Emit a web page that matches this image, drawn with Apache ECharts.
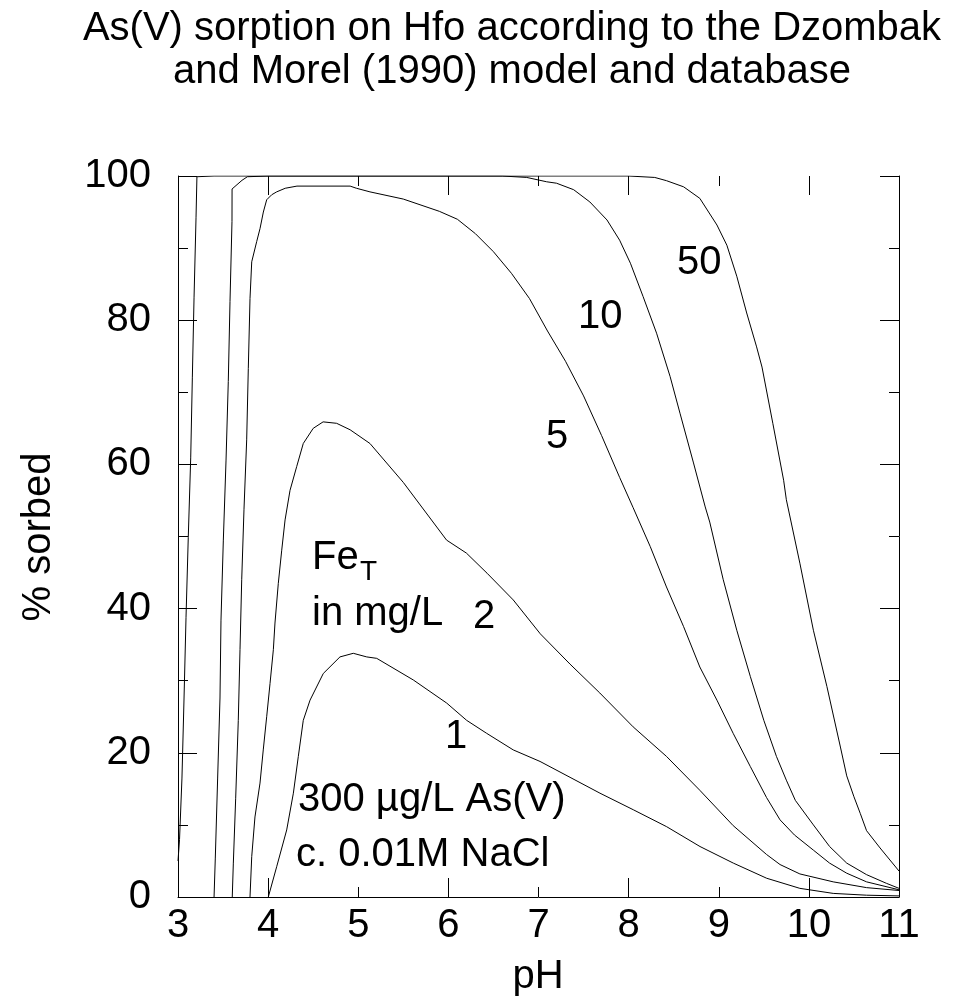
<!DOCTYPE html>
<html>
<head>
<meta charset="utf-8">
<script src="https://cdn.jsdelivr.net/npm/echarts@6/dist/echarts.min.js"></script>
<style>
    body { margin: 0; background: #fff; }
    #chart { width: 975px; height: 1001px; }
</style>
</head>
<body>
<div id="chart"></div>
<script>
    // pH tick labels and % sorbed ticks
    var phTicks = [3, 4, 5, 6, 7, 8, 9, 10, 11];
    var phMajor = [4, 6, 8, 10];

    // [pH, % sorbed], one array per Fe_T (mg/L)
    var fe50 = [[3.0, 5], [3.017, 8], [3.044, 16.5], [3.067, 27.6], [3.089, 38.8], [3.114, 49.9], [3.141, 60.9],
        [3.159, 72.0], [3.178, 83.1], [3.2, 94.2], [3.21, 99.9], [3.4, 100], [8.0, 100], [8.29, 99.8], [8.42, 99.35],
        [8.61, 98.5], [8.79, 96.9], [8.98, 93.2], [9.09, 90.4], [9.2, 86.1], [9.31, 81.0], [9.42, 76.3], [9.48, 73.5],
        [9.6, 65.7], [9.72, 57.8], [9.75, 55.1], [9.9, 46.3], [10.05, 37.0], [10.2, 29.2], [10.35, 20.8], [10.42, 16.8],
        [10.5, 13.9], [10.57, 11.6], [10.64, 9.2], [10.79, 6.8], [11.0, 3.6]];
    var fe10 = [[3.40, 0], [3.414, 5.4], [3.44, 16.5], [3.466, 27.6], [3.477, 38.4], [3.503, 49.5], [3.533, 60.6],
        [3.558, 71.5], [3.577, 82.6], [3.599, 93.7], [3.60, 98.2], [3.71, 99.4], [3.77, 99.9], [4.0, 100], [6.6, 100],
        [6.87, 99.8], [7.09, 99.2], [7.2, 99.0], [7.39, 98.1], [7.57, 96.4], [7.76, 93.9], [7.9, 91.1], [8.02, 87.9],
        [8.16, 83.3], [8.31, 78.2], [8.46, 72.2], [8.57, 67.1], [8.72, 60.2], [8.85, 54.1], [8.9, 52.0], [9.05, 44.0],
        [9.2, 37.0], [9.35, 30.6], [9.5, 24.5], [9.64, 19.5], [9.75, 16.2], [9.85, 13.4], [10.05, 10.0], [10.23, 7.0],
        [10.42, 4.7], [10.64, 3.1], [10.86, 1.9], [11.0, 1.2]];
    var fe5 = [[3.602, 0], [3.614, 4.7], [3.64, 13.7], [3.669, 24.5], [3.688, 34.3], [3.707, 44.0], [3.732, 53.7],
        [3.762, 63.4], [3.78, 73.3], [3.799, 83.0], [3.818, 88.1], [3.873, 90.9], [3.91, 92.7], [3.947, 95.0],
        [3.984, 96.7], [4.04, 97.4], [4.095, 97.8], [4.19, 98.3], [4.32, 98.6], [4.91, 98.6], [4.98, 98.3], [5.13, 97.8],
        [5.5, 96.8], [5.9, 95.1], [6.1, 94.0], [6.3, 92.0], [6.5, 89.5], [6.7, 86.5], [6.9, 83.0], [7.1, 78.5],
        [7.3, 74.3], [7.5, 69.5], [7.7, 64.0], [7.9, 58.2], [8.05, 54.0], [8.24, 48.6], [8.42, 43.0], [8.61, 37.5],
        [8.79, 31.9], [8.98, 27.3], [9.16, 22.7], [9.35, 18.1], [9.53, 13.8], [9.68, 10.7], [9.84, 8.6], [10.05, 6.5],
        [10.23, 4.7], [10.42, 3.3], [10.64, 2.1], [11.0, 1.0]];
    var fe2 = [[3.799, 0], [3.818, 5.6], [3.854, 11.1], [3.91, 15.8], [3.946, 20.4], [3.984, 25.0], [4.021, 29.6],
        [4.058, 34.3], [4.076, 38.0], [4.113, 43.5], [4.151, 48.1], [4.188, 52.3], [4.243, 56.4], [4.317, 59.7],
        [4.39, 62.9], [4.5, 65.0], [4.61, 65.9], [4.76, 65.7], [4.91, 64.8], [5.13, 62.9], [5.5, 57.5], [5.98, 49.5],
        [6.2, 47.7], [6.43, 44.9], [6.72, 41.2], [7.02, 36.5], [7.35, 32.3], [7.68, 28.3], [8.05, 23.6], [8.42, 19.5],
        [8.79, 14.8], [9.16, 9.9], [9.53, 5.9], [9.68, 4.5], [9.9, 3.2], [10.27, 2.1], [10.64, 1.3], [11.0, 0.9]];
    var fe1 = [[4.002, 0], [4.095, 4.2], [4.206, 9.3], [4.28, 14.4], [4.335, 19.5], [4.39, 24.5], [4.465, 27.3],
        [4.612, 31.0], [4.797, 33.3], [4.945, 33.8], [5.094, 33.3], [5.205, 33.1], [5.611, 30.1], [5.981, 26.9],
        [6.203, 24.5], [6.425, 22.7], [6.72, 20.4], [7.017, 18.8], [7.35, 16.6], [7.682, 14.4], [8.052, 12.1],
        [8.422, 9.75], [8.792, 7.0], [9.162, 4.7], [9.532, 2.6], [9.9, 1.2], [10.27, 0.5], [10.64, 0.25], [11.0, 0.15]];

    var FONT = '"Liberation Sans", Arial, sans-serif';
    var black = '#000';

    function xAx(pos, ticks, len, labels) {
        var ax = {
            type: 'value', position: pos, min: 3, max: 11, interval: 1,
            axisLine: { show: labels, onZero: false, lineStyle: { color: black, width: 1 } },
            axisTick: { inside: true, length: len, lineStyle: { color: black, width: 1 } },
            axisLabel: { show: labels, margin: 9, color: black, fontSize: 40, fontFamily: FONT },
            splitLine: { show: false }
        };
        if (ticks) {
            ax.axisTick.customValues = ticks;
        }
        return ax;
    }
    function yAx(pos, labels) {
        return {
            type: 'value', position: pos, min: 0, max: 100, interval: 20,
            axisLine: { show: true, onZero: false, lineStyle: { color: black, width: 1 } },
            axisTick: { inside: true, length: 19, lineStyle: { color: black, width: 1 } },
            minorTick: { show: true, splitNumber: 2, length: 10, lineStyle: { color: black, width: 1 } },
            axisLabel: { show: labels, margin: 27, color: black, fontSize: 40, fontFamily: FONT },
            splitLine: { show: false }
        };
    }
    function curve(data) {
        return {
            type: 'line', data: data, xAxisIndex: 0, yAxisIndex: 0,
            symbol: 'none', showSymbol: false, smooth: false,
            lineStyle: { color: black, width: 1 }, z: 3
        };
    }
    function txt(s, x, y, size, align, rot) {
        return {
            type: 'text', x: x, y: y, rotation: rot || 0, z: 10,
            style: {
                text: s, fill: black, font: size + 'px ' + FONT,
                textAlign: align || 'left', textVerticalAlign: 'middle',
                align: align || 'left', verticalAlign: 'middle'
            }
        };
    }

    var myChart = echarts.init(document.getElementById('chart'));
    var option = {
        animation: false,
        backgroundColor: '#fff',
        grid: { left: 178, right: 76, top: 176, bottom: 104, containLabel: false, outerBoundsMode: 'none' },
        xAxis: [
            xAx('bottom', null, 10, true),
            xAx('bottom', phMajor, 19, false),
            xAx('top', null, 10, false),
            xAx('top', phMajor, 19, false)
        ],
        yAxis: [yAx('left', true), yAx('right', false)],
        series: [curve(fe50), curve(fe10), curve(fe5), curve(fe2), curve(fe1)],
        graphic: [
            txt('As(V) sorption on Hfo according to the Dzombak', 512, 29, 40, 'center'),
            txt('and Morel (1990) model and database', 512, 72, 40, 'center'),
            txt('pH', 538, 977, 40, 'center'),
            txt('% sorbed', 39, 537, 40, 'center', Math.PI / 2),
            txt('50', 677, 263, 40),
            txt('10', 578, 317, 40),
            txt('5', 546, 437, 40),
            txt('Fe', 312, 558, 40),
            txt('T', 360, 572, 28),
            txt('in mg/L', 312, 614, 40),
            txt('2', 473, 617, 40),
            txt('1', 445, 737, 40),
            txt('300 \u00b5g/L As(V)', 298, 800, 40),
            txt('c. 0.01M NaCl', 296, 855, 40)
        ]
    };
    myChart.setOption(option);
</script>
</body>
</html>
